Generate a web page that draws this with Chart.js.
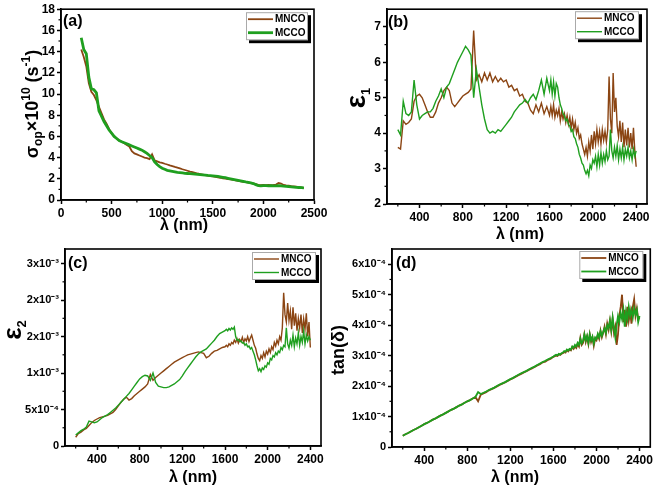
<!DOCTYPE html>
<html>
<head>
<meta charset="utf-8">
<script src="https://cdn.jsdelivr.net/npm/chart.js@4.4.0/dist/chart.umd.min.js"></script>
<style>
  html, body { margin: 0; padding: 0; background: #fff; }
  #wrap { position: relative; width: 655px; height: 485px; overflow: hidden; }
  #wrap canvas { position: absolute; left: 0; top: 0; }
</style>
</head>
<body>
<div id="wrap">
  <canvas id="chartA" width="655" height="485"></canvas>
  <canvas id="chartB" width="655" height="485"></canvas>
  <canvas id="chartC" width="655" height="485"></canvas>
  <canvas id="chartD" width="655" height="485"></canvas>
</div>
<script>
// wavelength grid (nm) for panel (a)
const wavelength = [
  200, 225, 250, 275, 300, 325, 350, 375, 400, 425,
  450, 475, 500, 525, 550, 575, 600, 625, 650, 675,
  700, 725, 750, 775, 800, 825, 850, 875, 900, 925,
  950, 975, 1000, 1025, 1050, 1075, 1100, 1125, 1150, 1175,
  1200, 1225, 1250, 1275, 1300, 1325, 1350, 1375, 1400, 1425,
  1450, 1475, 1500, 1525, 1550, 1575, 1600, 1625, 1650, 1675,
  1700, 1725, 1750, 1775, 1800, 1825, 1850, 1875, 1900, 1925,
  1950, 1975, 2000, 2025, 2050, 2075, 2100, 2125, 2150, 2175,
  2200, 2225, 2250, 2275, 2300, 2325, 2350, 2375, 2400
];

// panels (b)-(d): read tighter where the traces get noisy
const wavelengthFine = [
  200, 225, 250, 275, 300, 325, 350, 375, 400, 425,
  450, 475, 500, 525, 550, 575, 600, 625, 650, 675,
  700, 725, 750, 775, 800, 825, 850, 875, 900, 925,
  950, 975, 1000, 1025, 1050, 1075, 1100, 1125, 1150, 1175,
  1200, 1225, 1250, 1275, 1300, 1325, 1350, 1375, 1400, 1425,
  1450, 1475, 1500, 1525, 1550, 1575, 1600,
  1612.5, 1625, 1637.5, 1650, 1662.5, 1675, 1687.5, 1700,
  1712.5, 1725, 1737.5, 1750, 1762.5, 1775, 1787.5, 1800,
  1812.5, 1825, 1837.5, 1850, 1862.5, 1875, 1887.5, 1900,
  1912.5, 1925, 1937.5, 1950, 1962.5, 1975, 1987.5, 2000,
  2012.5, 2025, 2037.5, 2050, 2062.5, 2075, 2087.5, 2100,
  2112.5, 2125, 2137.5, 2150, 2162.5, 2175, 2187.5, 2200,
  2212.5, 2225, 2237.5, 2250, 2262.5, 2275, 2287.5, 2300,
  2312.5, 2325, 2337.5, 2350, 2362.5, 2375, 2387.5, 2400
];

// (a) optical conductivity, x10^10 s^-1
const sigmaMNCO = [
  14.2, 13.5, 12.6, 11.0, 10.2, 9.9, 9.4, 8.8, 8.2, 7.6,
  7.2, 6.7, 6.3, 6.0, 5.8, 5.6, 5.5, 5.35, 5.2, 5.05,
  4.6, 4.4, 4.3, 4.2, 4.1, 4.0, 3.95, 3.85, 4.3, 3.75,
  3.65, 3.55, 3.5, 3.42, 3.35, 3.27, 3.2, 3.12, 3.05, 2.98,
  2.9, 2.83, 2.76, 2.68, 2.62, 2.56, 2.5, 2.45, 2.4, 2.35,
  2.3, 2.25, 2.22, 2.18, 2.14, 2.1, 2.05, 2.02, 1.98, 1.95,
  1.9, 1.85, 1.8, 1.76, 1.72, 1.68, 1.65, 1.6, 1.56, 1.5,
  1.42, 1.4, 1.42, 1.4, 1.42, 1.4, 1.42, 1.45, 1.6, 1.55,
  1.42, 1.38, 1.35, 1.3, 1.28, 1.25, 1.22, 1.18, 1.12
];
const sigmaMCCO = [
  15.3, 14.2, 13.8, 11.6, 10.5, 10.4, 10.1, 8.4, 7.9, 7.4,
  7.0, 6.6, 6.3, 6.0, 5.8, 5.6, 5.5, 5.4, 5.3, 5.2,
  5.1, 5.0, 4.9, 4.8, 4.7, 4.55, 4.4, 4.2, 4.0, 3.6,
  3.35, 3.15, 3.0, 2.9, 2.8, 2.75, 2.7, 2.65, 2.6, 2.58,
  2.55, 2.52, 2.5, 2.48, 2.46, 2.44, 2.42, 2.4, 2.38, 2.35,
  2.32, 2.3, 2.28, 2.26, 2.22, 2.18, 2.14, 2.1, 2.05, 2.0,
  1.95, 1.9, 1.85, 1.8, 1.75, 1.7, 1.66, 1.62, 1.55, 1.45,
  1.35, 1.34, 1.35, 1.35, 1.34, 1.35, 1.34, 1.33, 1.35, 1.33,
  1.3, 1.28, 1.26, 1.24, 1.22, 1.2, 1.18, 1.16, 1.14
];

// (b) real part of dielectric constant
const eps1MNCO = [
  3.6, 3.55, 4.35, 4.25, 4.3, 4.4, 4.9, 5.05, 5.1, 5.0,
  4.8, 4.6, 4.45, 4.45, 4.6, 4.85, 5.0, 5.2, 5.3, 5.2,
  4.85, 4.75, 4.85, 4.95, 5.05, 5.1, 5.15, 5.25, 6.9, 5.5,
  5.65, 5.45, 5.7, 5.5, 5.7, 5.45, 5.6, 5.45, 5.55, 5.45,
  5.5, 5.3, 5.35, 5.2, 5.25, 5.05, 5.1, 4.9, 4.85, 4.65,
  4.55, 4.8, 4.6, 4.85, 4.55, 4.75, 4.5,
  4.75, 4.5, 4.8, 4.45, 4.65, 4.5, 4.7, 4.35,
  4.6, 4.4, 4.55, 4.3, 4.5, 4.25, 4.45, 4.15,
  4.4, 4.1, 4.3, 4.0, 4.15, 3.85, 3.95, 3.7,
  3.55, 3.4, 3.6, 3.35, 3.75, 3.5, 3.95, 3.55,
  4.05, 3.7, 4.1, 3.75, 4.05, 3.7, 4.1, 3.8,
  4.05, 3.75, 4.1, 5.6, 4.4, 4.0, 5.7, 4.6,
  5.0, 4.2, 3.9, 4.35, 3.75, 4.3, 3.6, 4.1,
  3.65, 4.15, 3.6, 4.0, 3.55, 4.15, 3.5, 3.05
];
const eps1MCCO = [
  4.1, 3.95, 4.9, 4.55, 4.5, 4.6, 5.5, 4.8, 4.4, 4.5,
  4.55, 4.6, 4.6, 4.7, 4.9, 5.05, 5.25, 5.0, 5.3, 5.4,
  5.6, 5.8, 6.0, 6.15, 6.3, 6.45, 6.35, 6.2, 5.0, 5.8,
  5.3, 4.8, 4.4, 4.1, 4.0, 4.05, 4.0, 4.1, 4.05, 4.15,
  4.25, 4.35, 4.45, 4.6, 4.7, 4.8, 4.85, 4.95, 4.85, 5.0,
  5.1, 4.95, 5.2, 5.5, 5.1, 5.55, 5.2,
  5.5, 5.1, 5.45, 5.05, 5.4, 5.3, 5.0, 4.8,
  4.7, 4.55, 4.5, 4.35, 4.4, 4.25, 4.2, 4.05,
  4.1, 3.9, 3.85, 3.7, 3.6, 3.4, 3.3, 3.15,
  3.1, 2.95, 2.85, 2.95, 2.8, 3.1, 3.0, 3.25,
  3.15, 3.35, 3.05, 3.4, 3.1, 3.45, 3.15, 3.4,
  3.2, 3.5, 3.25, 3.35, 4.1, 3.5, 3.3, 3.6,
  3.35, 3.65, 3.25, 3.55, 3.3, 3.6, 3.25, 3.55,
  3.35, 3.6, 3.3, 3.5, 3.25, 3.55, 3.35, 3.5
];

// (c) imaginary part, in units of 10^-3
const eps2MNCO = [
  0.12, 0.17, 0.19, 0.22, 0.24, 0.28, 0.32, 0.35, 0.37, 0.39,
  0.4, 0.41, 0.42, 0.44, 0.46, 0.5, 0.55, 0.6, 0.64, 0.67,
  0.63, 0.65, 0.69, 0.72, 0.75, 0.78, 0.81, 0.85, 0.98, 0.9,
  0.94, 0.97, 1.0, 1.03, 1.06, 1.09, 1.12, 1.15, 1.17, 1.19,
  1.21, 1.23, 1.25, 1.26, 1.27, 1.28, 1.29, 1.28, 1.27, 1.21,
  1.23, 1.27, 1.3, 1.31, 1.33, 1.35, 1.36,
  1.38, 1.36, 1.4, 1.38, 1.42, 1.4, 1.45, 1.42,
  1.47, 1.41, 1.46, 1.43, 1.49, 1.42, 1.47, 1.44,
  1.5, 1.43, 1.48, 1.52, 1.45, 1.38, 1.34, 1.26,
  1.2, 1.17, 1.24, 1.2, 1.28, 1.22, 1.3, 1.26,
  1.33, 1.28, 1.36, 1.32, 1.42, 1.37, 1.45, 1.4,
  1.5, 1.45, 1.62, 2.1, 1.8, 1.7, 1.96, 1.72,
  1.85, 1.6, 1.9, 1.65, 1.82, 1.58, 1.75, 1.62,
  1.8, 1.55, 1.74, 1.6, 1.82, 1.5, 1.7, 1.35
];
const eps2MCCO = [
  0.15, 0.18, 0.21, 0.23, 0.26, 0.34, 0.33, 0.32, 0.33, 0.36,
  0.39, 0.41, 0.43, 0.46, 0.49, 0.52, 0.56, 0.6, 0.64, 0.68,
  0.72, 0.77, 0.82, 0.87, 0.92, 0.95, 0.97, 0.96, 0.9, 1.0,
  0.87, 0.82, 0.81, 0.8, 0.8, 0.81, 0.83, 0.85, 0.88, 0.91,
  0.96, 1.02, 1.07, 1.12, 1.17, 1.22, 1.26, 1.29, 1.31, 1.33,
  1.37, 1.41, 1.45, 1.5, 1.54, 1.56, 1.58,
  1.6, 1.58, 1.61, 1.59, 1.62, 1.6, 1.63, 1.5,
  1.45, 1.46, 1.43, 1.44, 1.41, 1.42, 1.38, 1.4,
  1.36, 1.37, 1.33, 1.35, 1.3, 1.25, 1.18, 1.1,
  1.03, 1.06, 1.02, 1.07, 1.05, 1.1, 1.08, 1.14,
  1.12, 1.2, 1.18, 1.24, 1.22, 1.28, 1.25, 1.3,
  1.28, 1.35, 1.32, 1.38, 1.36, 1.62, 1.4, 1.34,
  1.45, 1.38, 1.52, 1.36, 1.48, 1.4, 1.55, 1.38,
  1.5, 1.42, 1.58, 1.4, 1.52, 1.44, 1.5, 1.45
];

// (d) loss tangent, in units of 10^-4
const tanMNCO = [
  0.37, 0.42, 0.46, 0.51, 0.56, 0.6, 0.65, 0.7, 0.75, 0.79,
  0.84, 0.89, 0.93, 0.98, 1.03, 1.07, 1.12, 1.17, 1.22, 1.26,
  1.31, 1.36, 1.4, 1.45, 1.5, 1.54, 1.59, 1.64, 1.5, 1.72,
  1.76, 1.8, 1.86, 1.9, 1.94, 1.99, 2.04, 2.08, 2.12, 2.17,
  2.22, 2.26, 2.31, 2.36, 2.4, 2.45, 2.49, 2.54, 2.58, 2.63,
  2.68, 2.72, 2.78, 2.8, 2.86, 2.9, 2.96,
  2.98, 3.0, 2.99, 3.04, 3.02, 3.06, 3.08, 3.12,
  3.1, 3.18, 3.14, 3.2, 3.17, 3.28, 3.22, 3.3,
  3.25, 3.38, 3.3, 3.58, 3.35, 3.42, 3.7, 3.45,
  3.62, 3.38, 3.7, 3.45, 3.6, 3.32, 3.55, 3.5,
  3.68, 3.55, 3.82, 3.6, 3.75, 3.95, 3.7, 4.05,
  3.85, 4.15, 3.8, 4.2, 3.75, 3.95, 3.35, 3.7,
  4.3, 4.6, 5.0, 4.1, 4.5, 3.95, 4.6, 4.15,
  4.45, 4.05, 4.6, 4.85, 4.3, 4.55, 4.2, 4.25
];
const tanMCCO = [
  0.37, 0.42, 0.46, 0.51, 0.56, 0.6, 0.65, 0.7, 0.75, 0.79,
  0.84, 0.89, 0.93, 0.98, 1.03, 1.07, 1.12, 1.17, 1.22, 1.26,
  1.31, 1.36, 1.4, 1.45, 1.5, 1.54, 1.59, 1.64, 1.8, 1.74,
  1.78, 1.82, 1.87, 1.91, 1.95, 2.0, 2.05, 2.09, 2.13, 2.18,
  2.23, 2.27, 2.32, 2.37, 2.42, 2.46, 2.5, 2.55, 2.6, 2.64,
  2.69, 2.74, 2.79, 2.83, 2.88, 2.92, 2.97,
  3.0, 3.03, 3.01, 3.06, 3.04, 3.08, 3.1, 3.15,
  3.13, 3.2, 3.17, 3.22, 3.2, 3.3, 3.26, 3.35,
  3.3, 3.42, 3.35, 3.55, 3.4, 3.48, 3.7, 3.5,
  3.65, 3.42, 3.7, 3.5, 3.62, 3.4, 3.6, 3.55,
  3.72, 3.6, 3.8, 3.65, 3.78, 3.9, 3.75, 4.0,
  3.9, 4.15, 3.85, 4.25, 3.9, 3.6, 4.0, 4.3,
  4.1, 4.4, 4.2, 4.5, 3.95, 4.45, 4.2, 4.6,
  4.3, 4.5, 4.25, 4.55, 4.35, 4.5, 4.1, 4.3
];

// tick values and labels
const xTicksA = [0, 500, 1000, 1500, 2000, 2500];
const xTicksNm = [400, 800, 1200, 1600, 2000, 2400];
const yTicksA = [0, 2, 4, 6, 8, 10, 12, 14, 16, 18];
const yTicksB = [2, 3, 4, 5, 6, 7];
const yTicksC = [0, 0.5, 1, 1.5, 2, 2.5];
const yLabelsC = ['0', '5x10⁻⁴', '1x10⁻³', '2x10⁻³', '2x10⁻³', '3x10⁻³'];
const yTicksD = [0, 1, 2, 3, 4, 5, 6];
const yLabelsD = ['0', '1x10⁻⁴', '2x10⁻⁴', '3x10⁻⁴', '4x10⁻⁴', '5x10⁻⁴', '6x10⁻⁴'];

const FONT = '"Liberation Sans", Arial, Helvetica, sans-serif';
const BROWN = '#8B4513';
const GREEN = '#1F9F1F';

function boldFont(size) {
  return 'bold ' + size + 'px ' + FONT;
}

// text made of pieces: [text, size, baseline shift]
function drawRich(ctx, parts, x, y, vertical) {
  ctx.save();
  ctx.translate(x, y);
  if (vertical) ctx.rotate(-Math.PI / 2);
  let w = 0;
  parts.forEach(p => { ctx.font = boldFont(p[1]); w += ctx.measureText(p[0]).width; });
  let pos = -w / 2;
  ctx.fillStyle = '#000';
  ctx.textAlign = 'left';
  ctx.textBaseline = 'alphabetic';
  parts.forEach(p => {
    ctx.font = boldFont(p[1]);
    ctx.fillText(p[0], pos, p[2] || 0);
    pos += ctx.measureText(p[0]).width;
  });
  ctx.restore();
}

const decorPlugin = {
  id: 'decor',
  afterDraw(chart, args, o) {
    const ctx = chart.ctx;
    const a = chart.chartArea;
    ctx.save();
    ctx.strokeStyle = '#000';

    // minor ticks halfway between the labelled ones
    ctx.lineWidth = 1.2;
    ['x', 'y'].forEach(id => {
      const s = chart.scales[id];
      const v = s.ticks.map(t => t.value);
      const step = v[1] - v[0];
      for (let m = v[0] - step / 2; m < s.max - 1e-9; m += step) {
        if (m <= s.min) continue;
        const p = s.getPixelForValue(m);
        ctx.beginPath();
        if (id === 'x') { ctx.moveTo(p, a.bottom); ctx.lineTo(p, a.bottom + 2.5); }
        else { ctx.moveTo(a.left, p); ctx.lineTo(a.left - 2.5, p); }
        ctx.stroke();
      }
    });

    ctx.lineWidth = 1.6;
    ctx.strokeRect(a.left, a.top, a.right - a.left, a.bottom - a.top);

    // legend box with drop shadow
    const lg = o.legend;
    const bx = a.right - lg.right - lg.w;
    const by = a.top + lg.top;
    ctx.fillStyle = '#000';
    ctx.fillRect(bx + 3, by + 3, lg.w, lg.h);
    ctx.fillStyle = '#fff';
    ctx.fillRect(bx, by, lg.w, lg.h);
    ctx.strokeStyle = '#aaa';
    ctx.lineWidth = 1;
    ctx.strokeRect(bx + 0.5, by + 0.5, lg.w - 1, lg.h - 1);
    chart.data.datasets.forEach((ds, i) => {
      const yy = by + 7 + i * 13.5;
      ctx.strokeStyle = ds.borderColor;
      ctx.lineWidth = ds.borderWidth;
      ctx.beginPath();
      ctx.moveTo(bx + 2, yy);
      ctx.lineTo(bx + 27, yy);
      ctx.stroke();
      ctx.fillStyle = '#000';
      ctx.font = boldFont(10);
      ctx.textBaseline = 'middle';
      ctx.textAlign = 'left';
      ctx.fillText(ds.label, bx + 29, yy + 0.5);
    });

    // panel tag
    ctx.fillStyle = '#000';
    ctx.font = boldFont(16);
    ctx.textBaseline = 'alphabetic';
    ctx.textAlign = 'left';
    ctx.fillText(o.tag, a.left + o.tagAt[0], a.top + o.tagAt[1]);

    drawRich(ctx, o.xTitle, o.xTitleAt[0], o.xTitleAt[1], false);
    drawRich(ctx, o.yTitle, o.yTitleAt[0], o.yTitleAt[1], true);
    ctx.restore();
  }
};

function series(label, xs, values, color, width, order) {
  return {
    label: label,
    data: xs.map((x, i) => ({ x: x, y: values[i] })),
    borderColor: color,
    backgroundColor: color,
    borderWidth: width,
    pointRadius: 0,
    tension: 0,
    order: order
  };
}

// the scale boxes are sized by hand so the plot area lands where the reference has it
function axis(min, max, ticks, labels, size, fitKey, fitSize) {
  return {
    type: 'linear',
    min: min,
    max: max,
    afterBuildTicks: s => { s.ticks = ticks.map(v => ({ value: v })); },
    afterFit: s => { s[fitKey] = fitSize; },
    grid: { drawOnChartArea: false, drawTicks: true, tickLength: 4, tickWidth: 1.5, tickColor: '#000' },
    border: { display: true, color: '#000', width: 1.6 },
    ticks: {
      color: '#000',
      font: { family: FONT, size: size, weight: 'bold' },
      padding: 2,
      maxRotation: 0,
      autoSkip: false,
      callback: (v, i) => labels[i]
    }
  };
}

function makeChart(id, box, sets, xr, yr, decor) {
  const xa = axis(xr[0], xr[1], xr[2], xr[3], xr[4], 'height', 485 - box[3]);
  const ya = axis(yr[0], yr[1], yr[2], yr[3], yr[4], 'width', box[0]);
  return new Chart(document.getElementById(id), {
    type: 'line',
    data: { datasets: sets },
    options: {
      responsive: false,
      animation: false,
      devicePixelRatio: 1,
      layout: { padding: { left: 0, top: box[1], right: 655 - box[2], bottom: 0 } },
      scales: { x: xa, y: ya },
      plugins: { legend: { display: false }, tooltip: { enabled: false }, decor: decor }
    },
    plugins: [decorPlugin]
  });
}

const lambdaTitle = [['λ (nm)', 16]];
const nmLabels = xTicksNm.map(String);

makeChart('chartA', [61, 6, 314, 200],
  [series('MNCO', wavelength, sigmaMNCO, BROWN, 1.8, 1), series('MCCO', wavelength, sigmaMCCO, GREEN, 2.8, 0)],
  [0, 2500, xTicksA, xTicksA.map(String), 12],
  [0, 18, yTicksA, yTicksA.map(String), 12],
  {
    legend: { right: 6, top: 3, w: 62, h: 28 },
    tag: '(a)', tagAt: [2, 17],
    xTitle: lambdaTitle, xTitleAt: [184, 230],
    yTitle: [['σ', 18], ['op', 12, 4], ['×10', 18], ['10', 12, -8], [' (s', 18], ['-1', 12, -8], [')', 18]],
    yTitleAt: [38, 104]
  });

makeChart('chartB', [387, 5, 647, 204],
  [series('MNCO', wavelengthFine, eps1MNCO, BROWN, 1.4, 1), series('MCCO', wavelengthFine, eps1MCCO, GREEN, 1.4, 0)],
  [100, 2500, xTicksNm, nmLabels, 12],
  [2, 7.5, yTicksB, yTicksB.map(String), 12],
  {
    legend: { right: 8, top: 2, w: 64, h: 28 },
    tag: '(b)', tagAt: [1, 18],
    xTitle: lambdaTitle, xTitleAt: [520, 238.5],
    yTitle: [['ε', 28], ['1', 13, 5]],
    yTitleAt: [365, 98]
  });

makeChart('chartC', [65, 249, 321, 446],
  [series('MNCO', wavelengthFine, eps2MNCO, BROWN, 1.4, 1), series('MCCO', wavelengthFine, eps2MCCO, GREEN, 1.4, 0)],
  [100, 2500, xTicksNm, nmLabels, 12],
  [0, 2.7, yTicksC, yLabelsC, 11],
  {
    legend: { right: 5, top: 3, w: 64, h: 28 },
    tag: '(c)', tagAt: [3, 19],
    xTitle: lambdaTitle, xTitleAt: [193, 481.5],
    yTitle: [['ε', 26], ['2', 13, 5]],
    yTitleAt: [21, 330]
  });

makeChart('chartD', [392, 249, 652, 447],
  [series('MNCO', wavelengthFine, tanMNCO, BROWN, 1.8, 1), series('MCCO', wavelengthFine, tanMCCO, GREEN, 1.8, 0)],
  [100, 2500, xTicksNm, nmLabels, 12],
  [0, 6.5, yTicksD, yLabelsD, 11],
  {
    legend: { right: 7, top: 2, w: 64, h: 28 },
    tag: '(d)', tagAt: [4, 19],
    xTitle: lambdaTitle, xTitleAt: [515, 481.5],
    yTitle: [['tan(δ)', 18]],
    yTitleAt: [344, 350]
  });
</script>
</body>
</html>
